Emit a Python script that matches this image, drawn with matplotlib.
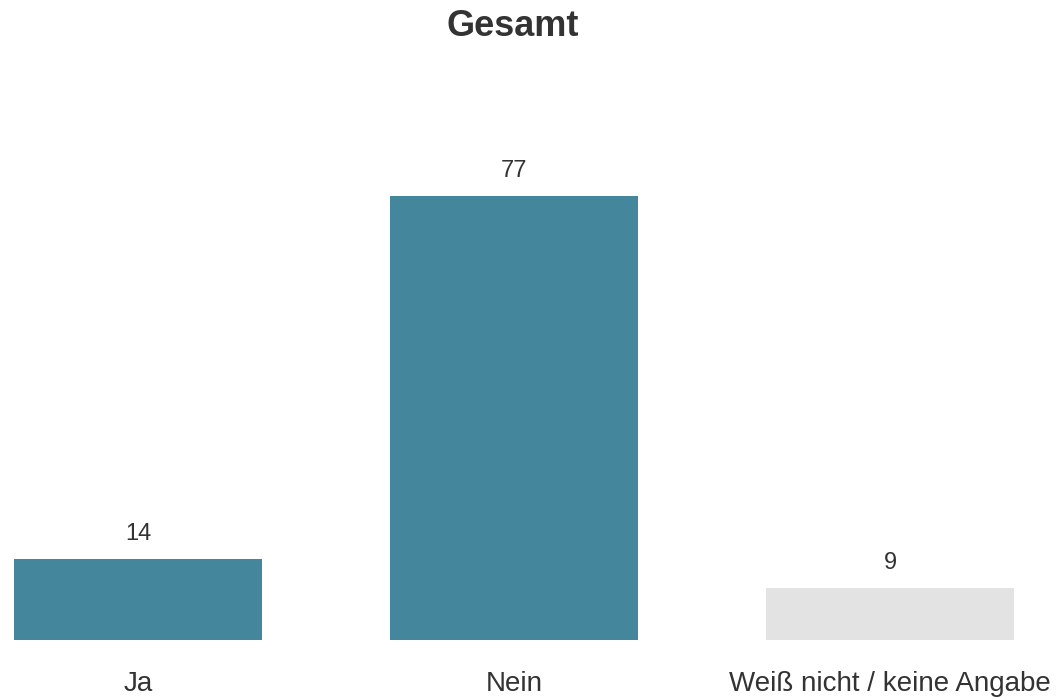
import matplotlib
matplotlib.use("Agg")
import matplotlib.pyplot as plt

categories = ["Ja", "Nein", "Weiß nicht / keine Angabe"]
values = [14, 77, 9]
colors = ["#44869C", "#44869C", "#E3E3E3"]
title = "Gesamt"

plt.rcParams['font.family'] = ['Liberation Sans', 'DejaVu Sans']
text_color = "#333333"

fig = plt.figure(figsize=(10.56, 6.99), dpi=100)
W, H = 1056, 699
ax_bottom_px = 640
ax_top_px = 100
ax = fig.add_axes([0, 1 - ax_bottom_px / H, 1, (ax_bottom_px - ax_top_px) / H])

x = list(range(len(categories)))
ax.bar(x, values, width=0.66, color=colors)
spacing = 376.0
ax.set_xlim(-138 / spacing, (W - 138) / spacing)
ax.set_ylim(0, 77 * (ax_bottom_px - ax_top_px) / 444)

for xi, v in zip(x, values):
    ax.annotate(str(v), (xi, v), xytext=(0, 10), textcoords="offset points",
                ha="center", va="bottom", fontsize=17, color=text_color)

ax.set_xticks(x)
ax.set_xticklabels(categories, fontsize=20, color=text_color)
ax.tick_params(axis="x", length=0, pad=22)
ax.set_yticks([])
for s in ax.spines.values():
    s.set_visible(False)

fig.text(513 / W, 1 - 26 / H, title, ha="center", va="center", fontsize=26,
         fontweight="bold", color=text_color)

fig.savefig("out.png", dpi=100)
